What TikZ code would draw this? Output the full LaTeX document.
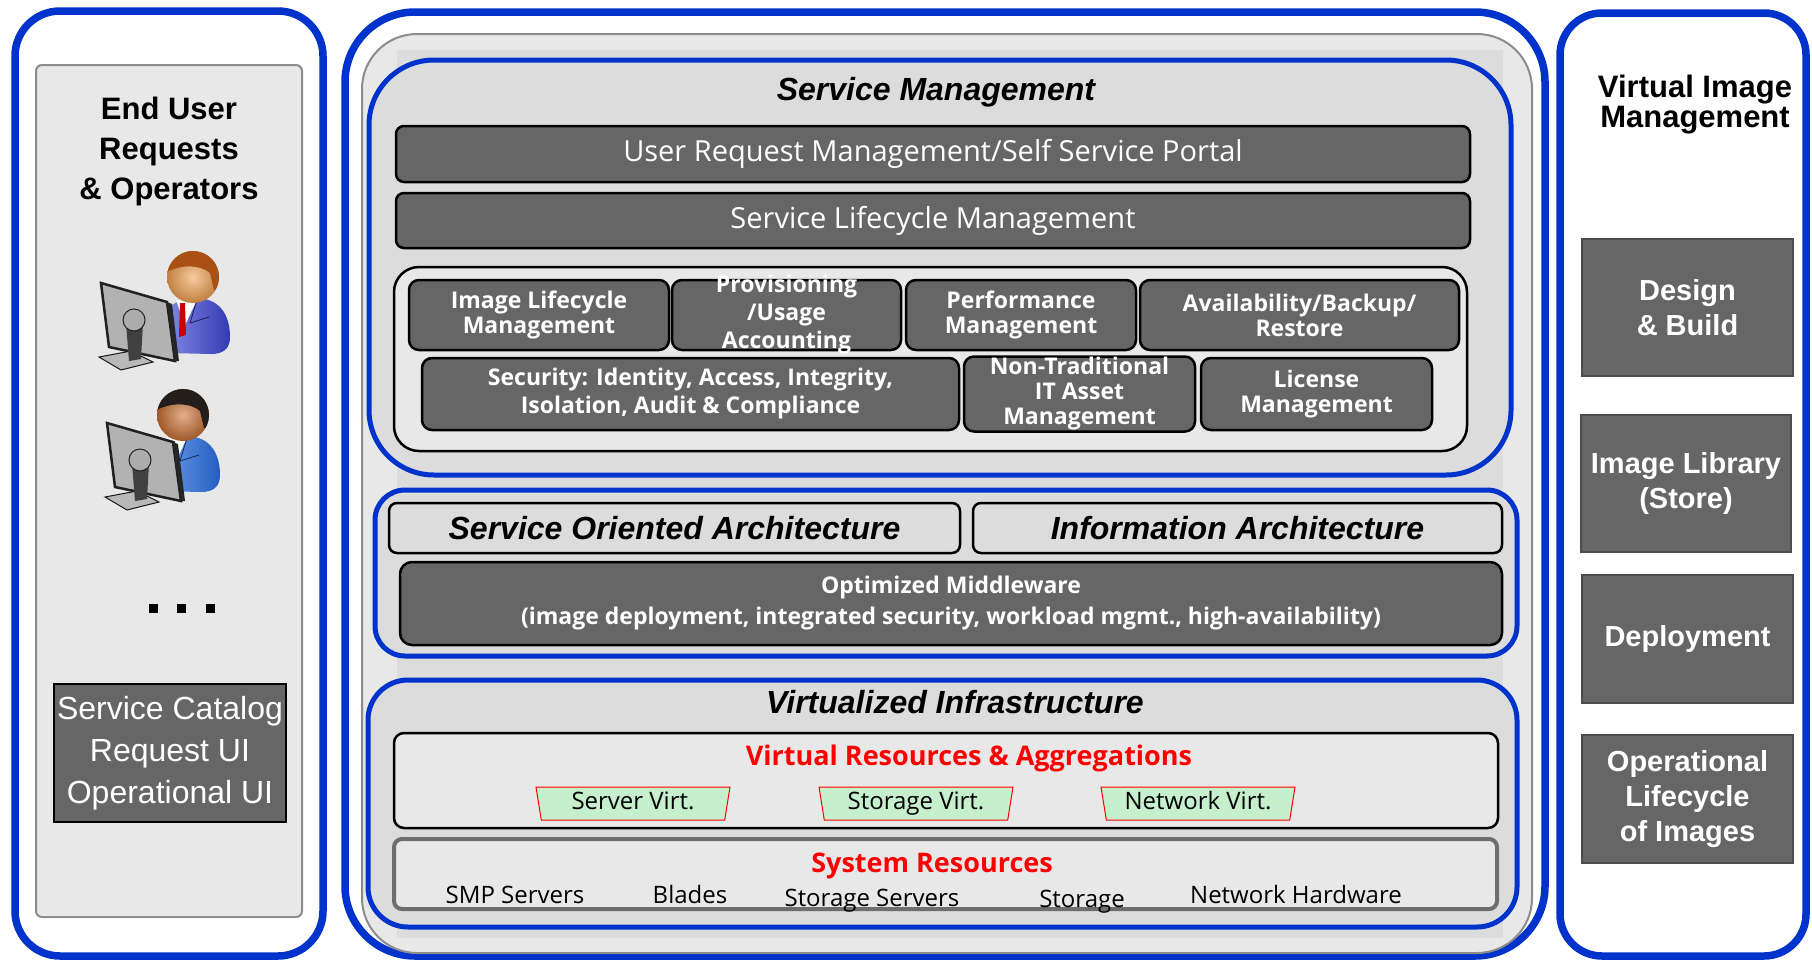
\documentclass[tikz,border=0pt]{standalone}
\usepackage{fontspec}
\setmainfont{Liberation Sans}
\newfontfamily\osans{Open Sans}
\usetikzlibrary{shapes.geometric}

\definecolor{frameblue}{RGB}{0,51,204}
\definecolor{boxgray}{RGB}{102,102,102}
\definecolor{panelgray}{RGB}{232,232,232}
\definecolor{layergray}{RGB}{220,220,220}
\definecolor{virtgreen}{RGB}{198,239,206}
\definecolor{hairbrown}{RGB}{170,80,20}
\definecolor{hairblack}{RGB}{35,30,25}
\definecolor{skinlight}{RGB}{240,160,80}
\definecolor{skindark}{RGB}{200,110,50}
\definecolor{suitblue}{RGB}{60,70,210}
\definecolor{suitsky}{RGB}{40,110,225}

\tikzset{
  frame/.style={draw=frameblue, line width=7.5pt, rounded corners=45pt},
  panel/.style={draw=black!45, line width=2pt, fill=panelgray},
  layer/.style={draw=frameblue, line width=5pt, fill=layergray},
  darkbox/.style={draw=black, line width=2.5pt, fill=boxgray, rounded corners=8pt, text=white,
    font=\osans\fontsize{29}{34}\selectfont},
  mgmtbox/.style={darkbox, rounded corners=10pt, align=center, inner sep=1pt,
    font=\osans\bfseries\fontsize{23}{25}\selectfont},
  lightbox/.style={draw=black, line width=2.5pt, fill=panelgray, rounded corners=8pt},
  heading/.style={align=center, inner sep=0pt},
  title/.style={inner sep=0pt, font=\fontsize{32}{38}\selectfont\bfseries\itshape},
  restitle/.style={inner sep=0pt, text=red, font=\osans\bfseries\fontsize{27}{32}\selectfont},
  hwlabel/.style={inner sep=0pt, font=\osans\fontsize{24}{28}\selectfont},
  virt/.style={trapezium, shape border rotate=180, trapezium stretches body, trapezium angle=77,
    draw=red, line width=1pt, fill=virtgreen, minimum width=194pt, minimum height=33pt,
    inner sep=0pt, text height=17pt, text depth=6pt, font=\osans\fontsize{24}{28}\selectfont},
  imgbox/.style={draw=black!70, line width=2pt, fill=boxgray, text=white, align=center,
    font=\fontsize{29}{35}\selectfont\bfseries}
}

\begin{document}
\begin{tikzpicture}[x=1pt,y=-1pt]
\fill[white] (0,0) rectangle (1812,962);
\useasboundingbox (0,0) rectangle (1812,962);

% left column: end users and operators
\node[frame, minimum width=308pt, minimum height=945pt] (usercol) at (169,483.5) {};
\node[panel, rounded corners=6pt, minimum width=266pt, minimum height=852pt] (userpanel) at (169,491) {};
\node[heading, font=\fontsize{31}{40}\selectfont\bfseries] (usertitle) at (169,151) {End User\\Requests\\\& Operators};

% two operators behind their screens
\foreach \mx/\my/\hx/\hy/\hair/\tie/\suit/\skin in
  {101/283/193/277/hairbrown/red!80!black/suitblue/skinlight,
   107/423/183/415/hairblack/green!50!black/suitsky/skindark}{
  % suit, collar, tie
  \shade[left color=\suit!65!white, right color=\suit!85!black]
    (\hx-25,\hy+76) -- (\hx-25,\hy+38) .. controls (\hx-25,\hy+27) and (\hx-14,\hy+22) .. (\hx,\hy+22)
    -- (\hx+12,\hy+22) .. controls (\hx+30,\hy+26) and (\hx+37,\hy+42) .. (\hx+37,\hy+60)
    .. controls (\hx+37,\hy+72) and (\hx+30,\hy+77) .. (\hx+18,\hy+77) -- cycle;
  \fill[white] (\hx-17,\hy+23) -- (\hx+4,\hy+23) -- (\hx-8,\hy+48) -- cycle;
  \fill[\tie] (\hx-13,\hy+26) -- (\hx-8,\hy+26) -- (\hx-7,\hy+58) -- (\hx-14,\hy+60) -- cycle;
  \draw[\suit!40!black, line width=0.8pt] (\hx+4,\hy+23) -- (\hx-3,\hy+46) -- (\hx+16,\hy+40);
  % head and hair
  \shade[inner color=\skin!55!white, outer color=\skin!80!black] (\hx,\hy) circle[radius=26pt];
  \begin{scope}
    \clip (\hx,\hy) circle[radius=26pt];
    \fill[\hair] (\hx-30,\hy-30) -- (\hx-30,\hy-3) .. controls (\hx-12,\hy-14) and (\hx+8,\hy-12) .. (\hx+17,\hy-4)
      -- (\hx+21,\hy+13) -- (\hx+30,\hy+12) -- (\hx+30,\hy-30) -- cycle;
  \end{scope}
  % screen seen from the back
  \fill[gray!60, draw=gray!25!black, line width=2.5pt]
    (\mx,\my) -- (\mx+66,\my+19) -- (\mx+74,\my+78) -- (\mx+8,\my+64) -- cycle;
  \fill[gray!30!black] (\mx+66,\my+19) -- (\mx+71,\my+21) -- (\mx+78,\my+78) -- (\mx+74,\my+78) -- cycle;
  \fill[gray!55, draw=gray!20!black, line width=1pt]
    (\mx-2,\my+74) -- (\mx+30,\my+68) -- (\mx+52,\my+79) -- (\mx+20,\my+87) -- cycle;
  \fill[gray!50!black] (\mx+25,\my+40) -- (\mx+42,\my+40) -- (\mx+40,\my+76) -- (\mx+28,\my+78) -- cycle;
  \fill[gray!65, draw=gray!25!black, line width=1pt] (\mx+33,\my+37) circle[radius=11pt];
}

\foreach \i/\x in {1/153,2/181.5,3/210.5}
  \node[fill=black, minimum size=9pt, inner sep=0pt] (dot\i) at (\x,608) {};

\node[draw=black, line width=2pt, fill=boxgray, text=white, align=center, font=\fontsize{32}{42}\selectfont,
  minimum width=232pt, minimum height=138pt] (catalog) at (170,753) {Service Catalog\\Request UI\\Operational UI};

% middle column: the management stack
\node[frame, rounded corners=70pt, minimum width=1200pt, minimum height=944pt] (stackcol) at (945,484) {};
\node[panel, rounded corners=55pt, minimum width=1170pt, minimum height=919pt] (stackpanel) at (947,493.5) {};
\node[fill=layergray, minimum width=1106pt, minimum height=888pt] (stacklayer) at (950,494) {};

% service management
\node[layer, rounded corners=65pt, minimum width=1142pt, minimum height=415pt] (smgroup) at (940,267.5) {};
\node[title, anchor=base] (smtitle) at (936,100) {Service Management};
\node[darkbox, minimum width=1074pt, minimum height=56pt] (urm) at (933,154) {User Request Management/Self Service Portal};
\node[darkbox, minimum width=1074pt, minimum height=55pt] (slm) at (933,220.5) {Service Lifecycle Management};
\node[lightbox, rounded corners=25pt, minimum width=1073pt, minimum height=184pt] (mgmtgroup) at (930.5,359) {};
\node[mgmtbox, minimum width=260pt, minimum height=70pt] (ilm) at (539,315) {Image Lifecycle\\Management};
\node[mgmtbox, minimum width=229pt, minimum height=70pt,
  label={[align=center, text=white, font=\osans\bfseries\fontsize{23}{28}\selectfont]center:{Provisioning\\/Usage\\Accounting}}] (prov) at (786.5,315) {};
\node[mgmtbox, minimum width=230pt, minimum height=70pt] (perf) at (1021,315) {Performance\\Management};
\node[mgmtbox, minimum width=319pt, minimum height=70pt] (avail) at (1299.5,315) {Availability/Backup/\\Restore};
\node[mgmtbox, minimum width=537pt, minimum height=72pt, font=\osans\bfseries\fontsize{23}{28}\selectfont] (sec) at (690.5,394) {Security: Identity, Access, Integrity,\\Isolation, Audit \& Compliance};
\node[mgmtbox, minimum width=231pt, minimum height=72pt] (nontrad) at (1079.5,394) {Non-Traditional\\IT Asset\\Management};
\node[mgmtbox, minimum width=231pt, minimum height=72pt] (lic) at (1316.5,394) {License\\Management};

% architecture and middleware
\node[layer, rounded corners=30pt, minimum width=1142pt, minimum height=166pt] (soagroup) at (946,573) {};
\node[lightbox, fill=layergray, minimum width=571pt, minimum height=50pt, font=\fontsize{32}{38}\selectfont\bfseries\itshape] (soa) at (674.5,528) {Service Oriented Architecture};
\node[lightbox, fill=layergray, minimum width=529pt, minimum height=50pt, font=\fontsize{32}{38}\selectfont\bfseries\itshape] (ia) at (1237.5,528) {Information Architecture};
\node[darkbox, rounded corners=12pt, minimum width=1102pt, minimum height=83pt, align=center,
  font=\osans\bfseries\fontsize{23}{31}\selectfont] (omw) at (951,603.5) {Optimized Middleware\\(image deployment, integrated security, workload mgmt., high-availability)};

% virtualized infrastructure
\node[layer, rounded corners=40pt, minimum width=1149pt, minimum height=247pt] (vigroup) at (942.5,803.5) {};
\node[title, anchor=base] (vititle) at (955,713) {Virtualized Infrastructure};
\node[lightbox, rounded corners=10pt, minimum width=1104pt, minimum height=95pt] (vrbox) at (946,780.5) {};
\node[restitle, anchor=base] (vrtitle) at (969,765) {Virtual Resources \& Aggregations};
\node[virt] (servervirt) at (633,803.5) {Server Virt.};
\node[virt] (storagevirt) at (916,803.5) {Storage Virt.};
\node[virt] (networkvirt) at (1198,803.5) {Network Virt.};
\node[draw=black!57, line width=4pt, fill=panelgray, rounded corners=8pt, minimum width=1103pt, minimum height=70pt] (srbox) at (945.5,874) {};
\node[restitle, anchor=base] (srtitle) at (932,872) {System Resources};
\foreach \n/\x/\y/\t in {smp/515/903/SMP Servers, blades/690/903/Blades, storsrv/872/906/Storage Servers,
    storage/1082/907/Storage, nethw/1296/903/Network Hardware}
  \node[hwlabel, anchor=base] (\n) at (\x,\y) {\t};

% right column: virtual image management
\node[frame, rounded corners=42pt, minimum width=246pt, minimum height=943pt] (imgcol) at (1683,484.5) {};
\node[heading, font=\fontsize{31}{30}\selectfont\bfseries] (imgtitle) at (1695,105) {Virtual Image\\Management};
\node[imgbox, minimum width=211pt, minimum height=137pt] (design) at (1687.5,307.5) {Design\\\& Build};
\node[imgbox, minimum width=210pt, minimum height=137pt] (library) at (1686,483.5) {Image Library\\(Store)};
\node[imgbox, minimum width=211pt, minimum height=128pt] (deploy) at (1687.5,639) {Deployment};
\node[imgbox, minimum width=211pt, minimum height=128pt] (oplife) at (1687.5,799) {Operational\\Lifecycle\\of Images};
\end{tikzpicture}
\end{document}
